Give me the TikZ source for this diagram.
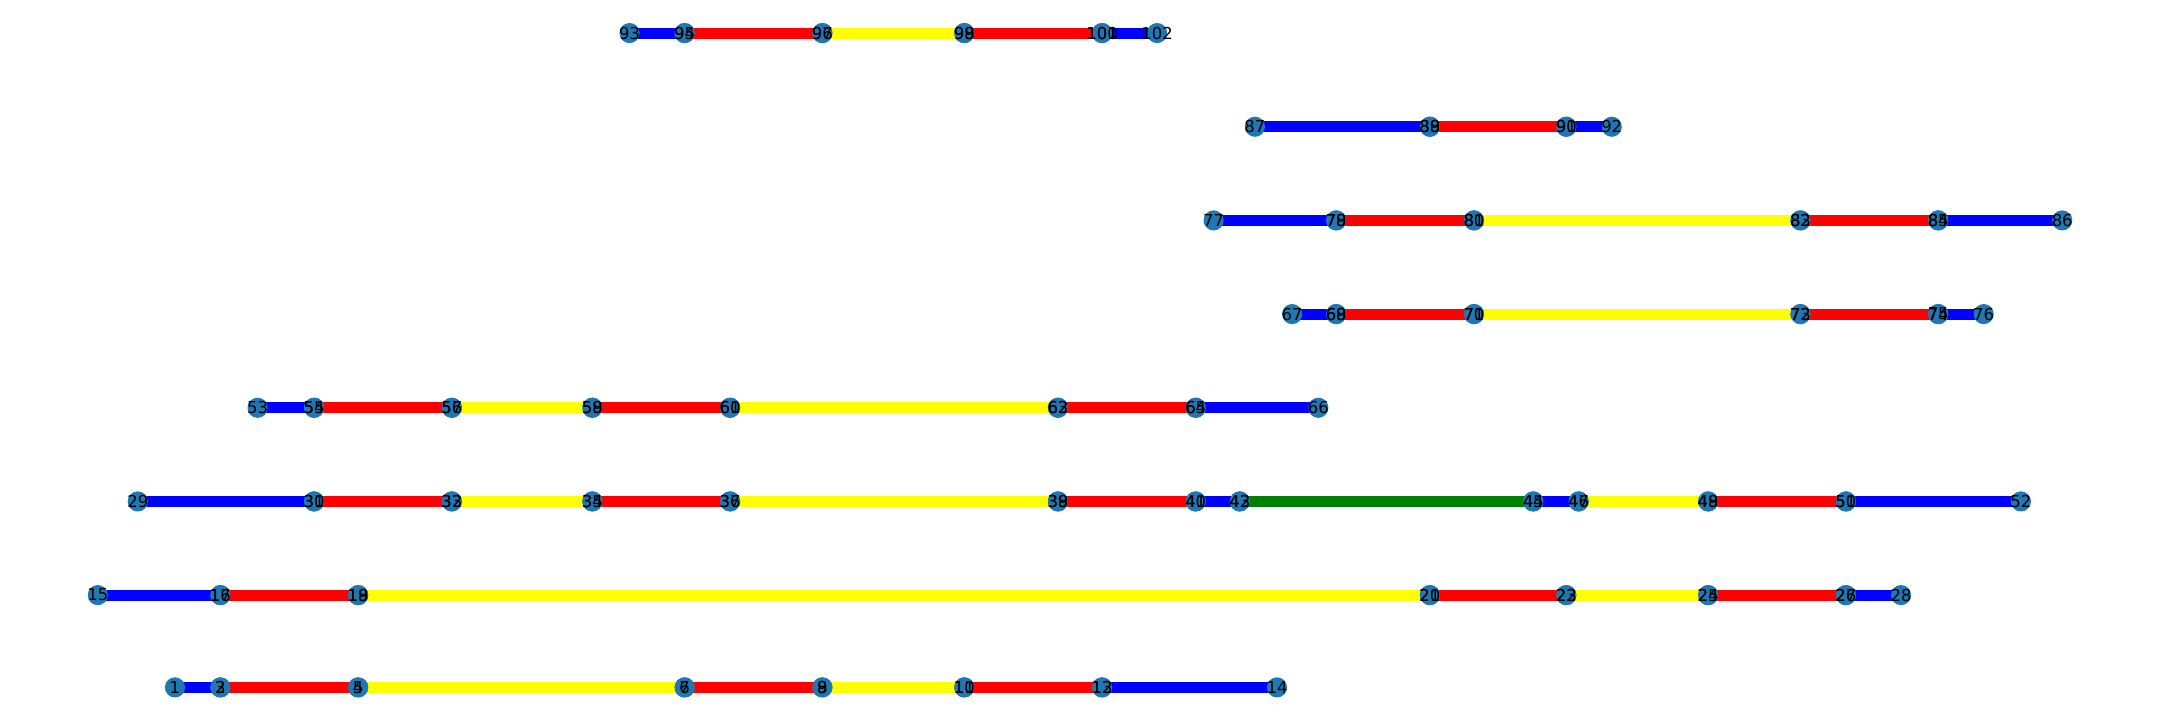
\documentclass[tikz,border=0pt]{standalone}
\usepackage{fontspec}
\setmainfont{DejaVu Sans}
\usetikzlibrary{backgrounds}
\definecolor{nodeblue}{HTML}{1F77B4}
\definecolor{linkblue}{RGB}{0,0,255}
\definecolor{linkred}{RGB}{255,0,0}
\definecolor{linkyellow}{RGB}{255,255,0}
\definecolor{linkgreen}{RGB}{0,128,0}

\begin{document}
\begin{tikzpicture}[x=0.019133cm,y=-0.019133cm,
  dot/.style={circle,fill=nodeblue,inner sep=0pt,minimum size=0.28cm},
  lbl/.style={inner sep=0pt,font=\fontsize{6.5}{7}\selectfont},
  seg/.style={line width=4.3pt}]
\useasboundingbox (0,-1) rectangle (1568,522);
% vertices, one row per chain
\foreach \n/\x in {1/127,2/160,3/160,4/260,5/260,6/497,7/497,8/597,9/597,10/700,11/700,12/800,13/800,14/927}
  \node[dot] (v\n) at (\x,498) {};
\foreach \n/\x in {15/71,16/160,17/160,18/260,19/260,20/1038,21/1038,22/1137,23/1137,24/1240,25/1240,26/1340,27/1340,28/1380}
  \node[dot] (v\n) at (\x,431) {};
\foreach \n/\x in {29/100,30/228,31/228,32/328,33/328,34/430,35/430,36/530,37/530,38/768,39/768,40/868,41/868,42/900,43/900,44/1113,45/1113,46/1146,47/1146,48/1240,49/1240,50/1340,51/1340,52/1467}
  \node[dot] (v\n) at (\x,363) {};
\foreach \n/\x in {53/187,54/228,55/228,56/328,57/328,58/430,59/430,60/530,61/530,62/768,63/768,64/868,65/868,66/957}
  \node[dot] (v\n) at (\x,295) {};
\foreach \n/\x in {67/938,68/970,69/970,70/1070,71/1070,72/1307,73/1307,74/1407,75/1407,76/1440}
  \node[dot] (v\n) at (\x,227) {};
\foreach \n/\x in {77/881,78/970,79/970,80/1070,81/1070,82/1307,83/1307,84/1407,85/1407,86/1497}
  \node[dot] (v\n) at (\x,159) {};
\foreach \n/\x in {87/911,88/1038,89/1038,90/1137,91/1137,92/1170}
  \node[dot] (v\n) at (\x,91) {};
\foreach \n/\x in {93/457,94/497,95/497,96/597,97/597,98/700,99/700,100/800,101/800,102/840}
  \node[dot] (v\n) at (\x,23) {};
% labels on top of all dots
\foreach \n in {1,...,102}
  \node[lbl] at (v\n) {\n};
% links under the dots
\begin{scope}[on background layer]
\foreach \a/\b/\c in {1/2/linkblue,3/4/linkred,5/6/linkyellow,7/8/linkred,9/10/linkyellow,11/12/linkred,13/14/linkblue,
  15/16/linkblue,17/18/linkred,19/20/linkyellow,21/22/linkred,23/24/linkyellow,25/26/linkred,27/28/linkblue,
  29/30/linkblue,31/32/linkred,33/34/linkyellow,35/36/linkred,37/38/linkyellow,39/40/linkred,41/42/linkblue,43/44/linkgreen,45/46/linkblue,47/48/linkyellow,49/50/linkred,51/52/linkblue,
  53/54/linkblue,55/56/linkred,57/58/linkyellow,59/60/linkred,61/62/linkyellow,63/64/linkred,65/66/linkblue,
  67/68/linkblue,69/70/linkred,71/72/linkyellow,73/74/linkred,75/76/linkblue,
  77/78/linkblue,79/80/linkred,81/82/linkyellow,83/84/linkred,85/86/linkblue,
  87/88/linkblue,89/90/linkred,91/92/linkblue,
  93/94/linkblue,95/96/linkred,97/98/linkyellow,99/100/linkred,101/102/linkblue}
  \draw[seg,\c] (v\a.center) -- (v\b.center);
\end{scope}
\end{tikzpicture}
\end{document}
